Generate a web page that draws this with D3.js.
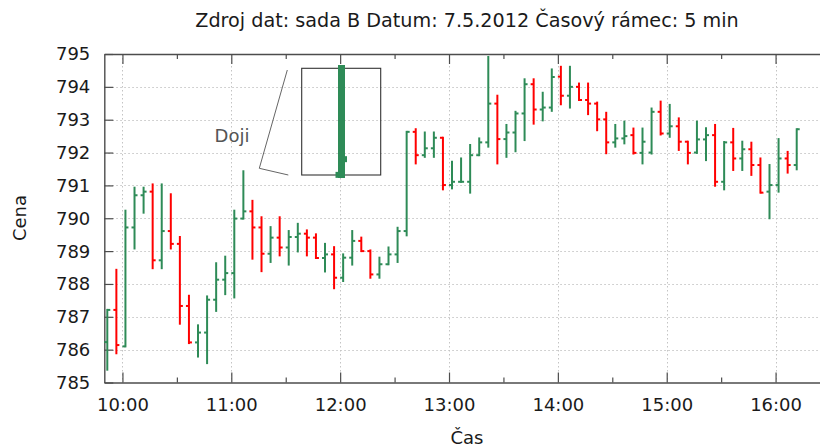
<!DOCTYPE html>
<html>
<head>
<meta charset="utf-8">
<script src="https://cdn.jsdelivr.net/npm/d3@7"></script>
<style>
  html, body { margin: 0; padding: 0; background: #fff; }
  svg { display: block; font-family: "DejaVu Sans", sans-serif; }
</style>
</head>
<body>
<svg id="chart" width="820" height="447"></svg>
<script>
// ---- data: 5-minute OHLC bars ----
const chartTitle = "Zdroj dat: sada B Datum: 7.5.2012 Časový rámec: 5 min";
const xLabel = "Čas";
const yLabel = "Cena";

const times = [
  "09:50","09:55","10:00","10:05","10:10","10:15","10:20","10:25","10:30","10:35","10:40","10:45",
  "10:50","10:55","11:00","11:05","11:10","11:15","11:20","11:25","11:30","11:35","11:40","11:45",
  "11:50","11:55","12:00","12:05","12:10","12:15","12:20","12:25","12:30","12:35","12:40","12:45",
  "12:50","12:55","13:00","13:05","13:10","13:15","13:20","13:25","13:30","13:35","13:40","13:45",
  "13:50","13:55","14:00","14:05","14:10","14:15","14:20","14:25","14:30","14:35","14:40","14:45",
  "14:50","14:55","15:00","15:05","15:10","15:15","15:20","15:25","15:30","15:35","15:40","15:45",
  "15:50","15:55","16:00","16:05","16:10"
];
const open = [
  786.23,787.21,786.10,789.72,790.70,790.81,788.72,789.61,789.22,787.33,786.22,786.52,
  787.52,788.13,788.33,789.99,790.21,789.72,788.92,789.41,789.11,789.43,789.53,789.41,
  788.79,788.90,788.19,788.80,789.31,789.00,788.29,788.60,788.90,789.61,792.63,791.92,
  792.13,792.45,791.01,791.11,791.11,791.92,792.31,793.49,792.41,792.61,793.19,794.08,
  793.31,793.37,794.31,793.73,794.00,793.60,793.49,793.01,792.31,792.43,792.53,791.99,
  792.00,793.24,792.58,792.80,792.33,792.00,792.40,792.53,791.11,792.31,791.82,792.10,
  791.62,790.81,791.01,791.82,791.62
];
const high = [
  787.21,788.43,790.23,790.93,790.93,791.03,791.03,790.73,789.43,787.64,786.74,787.62,
  788.63,788.83,790.23,791.43,790.53,790.03,789.73,790.03,789.61,789.83,789.63,789.51,
  789.22,789.12,788.90,789.61,789.41,789.02,788.80,789.11,789.71,792.63,792.71,792.61,
  792.61,792.45,791.72,791.82,792.23,792.43,794.91,793.73,792.84,793.24,794.23,794.23,
  793.82,794.53,794.61,794.61,794.10,794.10,793.52,793.21,792.84,792.94,792.73,792.73,
  793.34,793.55,793.45,793.04,792.33,792.94,792.74,792.84,792.32,792.72,792.33,792.30,
  791.82,791.62,792.41,792.02,792.71
];
const low = [
  785.39,785.89,786.10,789.08,790.17,788.48,788.48,789.08,786.79,786.20,785.79,785.59,
  787.18,787.69,787.59,789.99,788.77,788.39,788.67,788.87,788.59,788.99,788.87,788.79,
  788.38,787.87,788.09,788.59,789.00,788.19,788.19,788.60,788.67,789.48,791.67,791.87,
  791.87,790.88,790.91,791.11,790.78,791.92,792.18,791.67,791.87,792.04,792.38,792.88,
  792.98,793.27,793.47,793.37,793.60,793.17,792.68,791.98,792.18,792.28,791.97,791.67,
  791.97,792.55,792.48,792.08,791.67,791.99,791.77,790.99,790.88,791.47,791.47,791.32,
  790.78,790.00,790.81,791.39,791.49
];
const close = [
  787.21,786.14,789.72,790.70,790.81,788.72,789.61,789.22,787.33,786.22,786.52,787.52,
  788.13,788.33,789.99,790.21,789.72,788.92,789.41,789.11,789.43,789.53,789.41,788.79,
  788.90,788.19,788.80,789.31,789.00,788.29,788.60,788.90,789.61,792.63,791.92,792.13,
  792.45,791.01,791.11,791.11,791.92,792.31,793.49,792.41,792.61,793.19,794.08,793.31,
  793.37,794.30,793.73,794.00,793.60,793.49,793.01,792.31,792.43,792.50,791.99,792.33,
  793.24,792.58,792.80,792.33,791.99,792.40,792.53,791.11,792.31,791.82,792.10,791.62,
  790.78,791.01,791.82,791.62,792.71
];

const priceTicks = [785, 786, 787, 788, 789, 790, 791, 792, 793, 794, 795];
const hourTicks = ["10:00","11:00","12:00","13:00","14:00","15:00","16:00"];
const halfHourTicks = ["10:30","11:30","12:30","13:30","14:30","15:30","16:30"];
const timeRange = ["09:50", "16:30"];

// magnified doji shown in the callout box
const dojiLabel = "Doji";
const dojiOpen = 791.12, dojiHigh = 791.82, dojiLow = 791.10, dojiClose = 791.22;

// ---- layout ----
const plot = { left: 104.3, right: 830, top: 54, bottom: 382.5 };
const upColor = "#2e8b57", downColor = "#ff0000";
const axisColor = "#4d4d4d", gridColor = "#c4c4c4", textColor = "#1a1a1a";
const fontSize = 18;
const barShift = 3;

const parse = d3.timeParse("%H:%M");
const fmt = d3.timeFormat("%H:%M");

const bars = times.map((t, i) => ({
  t: parse(t), o: open[i], h: high[i], l: low[i], c: close[i]
}));

const x = d3.scaleTime().domain(timeRange.map(parse)).range([plot.left, plot.right]);
const y = d3.scaleLinear().domain([d3.min(priceTicks), d3.max(priceTicks)]).range([plot.bottom, plot.top]);

const svg = d3.select("#chart");

// grid
const grid = svg.append("g").attr("stroke", gridColor).attr("stroke-width", 1).attr("stroke-dasharray", "1.5,2.5");
grid.selectAll("line.h").data(priceTicks.slice(1, -1)).join("line")
  .attr("x1", plot.left).attr("x2", plot.right)
  .attr("y1", d => Math.round(y(d)) + 0.5).attr("y2", d => Math.round(y(d)) + 0.5);
grid.selectAll("line.v").data(hourTicks.map(parse)).join("line")
  .attr("x1", d => Math.round(x(d)) + 0.5).attr("x2", d => Math.round(x(d)) + 0.5)
  .attr("y1", plot.top).attr("y2", plot.bottom);

// axes
function styleAxis(g) {
  g.selectAll(".domain").attr("stroke", axisColor).attr("stroke-width", 1.4);
  g.selectAll(".tick line").attr("stroke", axisColor).attr("stroke-width", 1.2);
  g.selectAll(".tick text").attr("fill", textColor).attr("font-size", fontSize)
    .attr("font-family", "DejaVu Sans, sans-serif");
}

svg.append("g").attr("transform", `translate(${plot.left},0)`)
  .call(d3.axisLeft(y).tickValues(priceTicks).tickFormat(d3.format("d"))
    .tickSizeInner(-9).tickSizeOuter(0).tickPadding(14))
  .call(styleAxis)
  .call(g => g.selectAll(".tick text").attr("dy", "0.33em"));

svg.append("g").attr("transform", `translate(0,${plot.bottom})`)
  .call(d3.axisBottom(x).tickValues(hourTicks.map(parse)).tickFormat(fmt)
    .tickSizeInner(-10).tickSizeOuter(0).tickPadding(15.5))
  .call(styleAxis);

svg.append("g").attr("transform", `translate(0,${plot.bottom})`)
  .call(d3.axisBottom(x).tickValues(halfHourTicks.map(parse)).tickFormat("")
    .tickSizeInner(-5).tickSizeOuter(0))
  .call(styleAxis)
  .call(g => g.select(".domain").remove());

svg.append("g").attr("transform", `translate(0,${plot.top})`)
  .call(d3.axisTop(x).tickValues(hourTicks.map(parse)).tickFormat("")
    .tickSizeInner(-10).tickSizeOuter(0))
  .call(styleAxis);

svg.append("g").attr("transform", `translate(0,${plot.top})`)
  .call(d3.axisTop(x).tickValues(halfHourTicks.map(parse)).tickFormat("")
    .tickSizeInner(-5).tickSizeOuter(0))
  .call(styleAxis)
  .call(g => g.select(".domain").remove());

// OHLC bars
const barG = svg.append("g").attr("stroke-width", 2).attr("fill", "none");
const bar = barG.selectAll("g").data(bars).join("g")
  .attr("stroke", d => d.c >= d.o ? upColor : downColor)
  .attr("transform", d => `translate(${x(d.t) + barShift},0)`);
bar.append("line").attr("x1", 0).attr("x2", 0)
  .attr("y1", d => y(d.h) - 1).attr("y2", d => y(d.l) + 1);
bar.append("line").attr("x1", -3).attr("x2", 0)
  .attr("y1", d => y(d.o)).attr("y2", d => y(d.o));
bar.append("line").attr("x1", 0).attr("x2", 3)
  .attr("y1", d => y(d.c)).attr("y2", d => y(d.c));

// callout with magnified doji
const box = { x0: 301.7, y0: 68.3, x1: 380.7, y1: 175 };
const cx = 341.5;
const yInset = d3.scaleLinear().domain([dojiLow, dojiHigh]).range([178, 65]);

svg.append("polyline")
  .attr("points", "287.3,70 259.3,168.3 288.3,175")
  .attr("fill", "none").attr("stroke", "#666").attr("stroke-width", 1);

svg.append("rect")
  .attr("x", box.x0).attr("y", box.y0)
  .attr("width", box.x1 - box.x0).attr("height", box.y1 - box.y0)
  .attr("fill", "none").attr("stroke", "#333").attr("stroke-width", 1.1);

const inset = svg.append("g").attr("stroke", upColor);
inset.append("line").attr("x1", cx).attr("x2", cx)
  .attr("y1", yInset(dojiHigh)).attr("y2", yInset(dojiLow)).attr("stroke-width", 7);
inset.append("line").attr("x1", cx - 6).attr("x2", cx)
  .attr("y1", yInset(dojiOpen)).attr("y2", yInset(dojiOpen)).attr("stroke-width", 6);
inset.append("line").attr("x1", cx).attr("x2", cx + 5.5)
  .attr("y1", yInset(dojiClose)).attr("y2", yInset(dojiClose)).attr("stroke-width", 6);

svg.append("text").attr("x", 232).attr("y", 142).attr("text-anchor", "middle")
  .attr("font-size", 18).attr("fill", "#555").text(dojiLabel);

// titles
svg.append("text").attr("x", 467).attr("y", 27.4).attr("text-anchor", "middle")
  .attr("font-size", 19.2).attr("fill", textColor).text(chartTitle);

svg.append("text").attr("x", 467).attr("y", 444).attr("text-anchor", "middle")
  .attr("font-size", fontSize).attr("fill", textColor).text(xLabel);

svg.append("text").attr("transform", `translate(26,218) rotate(-90)`).attr("text-anchor", "middle")
  .attr("font-size", fontSize).attr("fill", textColor).text(yLabel);
</script>
</body>
</html>
